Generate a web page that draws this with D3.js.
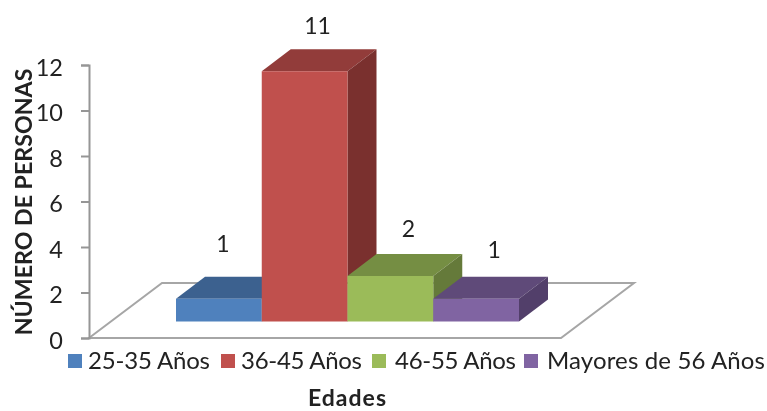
<!DOCTYPE html>
<html><head><meta charset="utf-8">
<script src="https://cdn.jsdelivr.net/npm/d3@7/dist/d3.min.js"></script>
<style>html,body{margin:0;padding:0;background:#fff}svg{display:block;filter:blur(0.45px)}text{font-family:Lato,"Open Sans",sans-serif;fill:#222}</style>
</head><body><svg id="c" width="767" height="411"></svg>
<script>
const categories=["25-35 Años","36-45 Años","46-55 Años","Mayores de 56 Años"];
const values=[1,11,2,1];
const yTicks=[0,2,4,6,8,10,12];
const frontColors=["#4f81bd","#c0504d","#9bbb59","#8064a2"];
const topColors=["#3c618f","#923c3a","#758e43","#5f4a79"];
const sideColors=["#345480","#7a302e","#657a3a","#523f6a"];
const legendSwatchX=[68,221,372,524];
const legendTextX=[88,241,395,547];
const legendTextWidth=[122,121,121,218];
const labelOffsets=[[4,-55],[13,-45],[18,-47],[18,-49]];

const svg=d3.select("#c");
const y=d3.scaleLinear().domain([0,12]).range([338,65]);
const x=d3.scaleBand().domain(categories).range([176,519]).padding(0);
const dx=29,dy=-22,base=-16.5;
const pts=a=>a.map(p=>p.join(",")).join(" ");

// floor
svg.append("polygon").attr("points",pts([[89,338],[162,283],[634,283],[561,338]]))
  .attr("fill","#fff").attr("stroke","#a6a6a6").attr("stroke-width",2);

// y axis
const axis=d3.axisLeft(y).tickValues(yTicks).tickSize(8).tickPadding(18).tickSizeOuter(8);
const ga=svg.append("g").attr("transform","translate(89,0)").call(axis);
ga.selectAll("path,line").attr("stroke","#969696").attr("stroke-width",2);
ga.selectAll("text").attr("font-size",23.5).attr("dy","0.44em").attr("fill","#222").style("font-family","Lato,'Open Sans',sans-serif");

// bars
categories.forEach((c,i)=>{
  const x0=x(c),x1=x0+x.bandwidth(),yb=y(0)+base,yt=y(values[i])+base;
  const g=svg.append("g");
  g.append("polygon").attr("points",pts([[x0,yt],[x1,yt],[x1+dx,yt+dy],[x0+dx,yt+dy]])).attr("fill",topColors[i]);
  g.append("polygon").attr("points",pts([[x1,yt],[x1+dx,yt+dy],[x1+dx,yb+dy],[x1,yb]])).attr("fill",sideColors[i]);
  g.append("rect").attr("x",x0).attr("y",yt).attr("width",x.bandwidth()).attr("height",yb-yt).attr("fill",frontColors[i]);
});

// data labels
categories.forEach((c,i)=>{
  svg.append("text").attr("x",x(c)+x.bandwidth()/2+labelOffsets[i][0])
    .attr("y",y(values[i])+base+labelOffsets[i][1]).attr("dy","0.35em")
    .attr("text-anchor","middle").attr("font-size",23).text(values[i]);
});

// legend
categories.forEach((c,i)=>{
  svg.append("rect").attr("x",legendSwatchX[i]).attr("y",354).attr("width",14).attr("height",14).attr("fill",frontColors[i]);
  svg.append("text").attr("x",legendTextX[i]).attr("y",369).attr("font-size",24)
    .attr("textLength",legendTextWidth[i]).attr("lengthAdjust","spacing").text(c);
});

// titles
svg.append("text").attr("transform","translate(32,202) rotate(-90)").attr("text-anchor","middle")
  .attr("font-size",23.2).attr("font-weight",700).attr("fill","#111").text("NÚMERO DE PERSONAS");
svg.append("text").attr("x",308).attr("y",406)
  .attr("font-size",23).attr("font-weight",700).attr("fill","#111")
  .attr("textLength",78).attr("lengthAdjust","spacing").text("Edades");
</script></body></html>
